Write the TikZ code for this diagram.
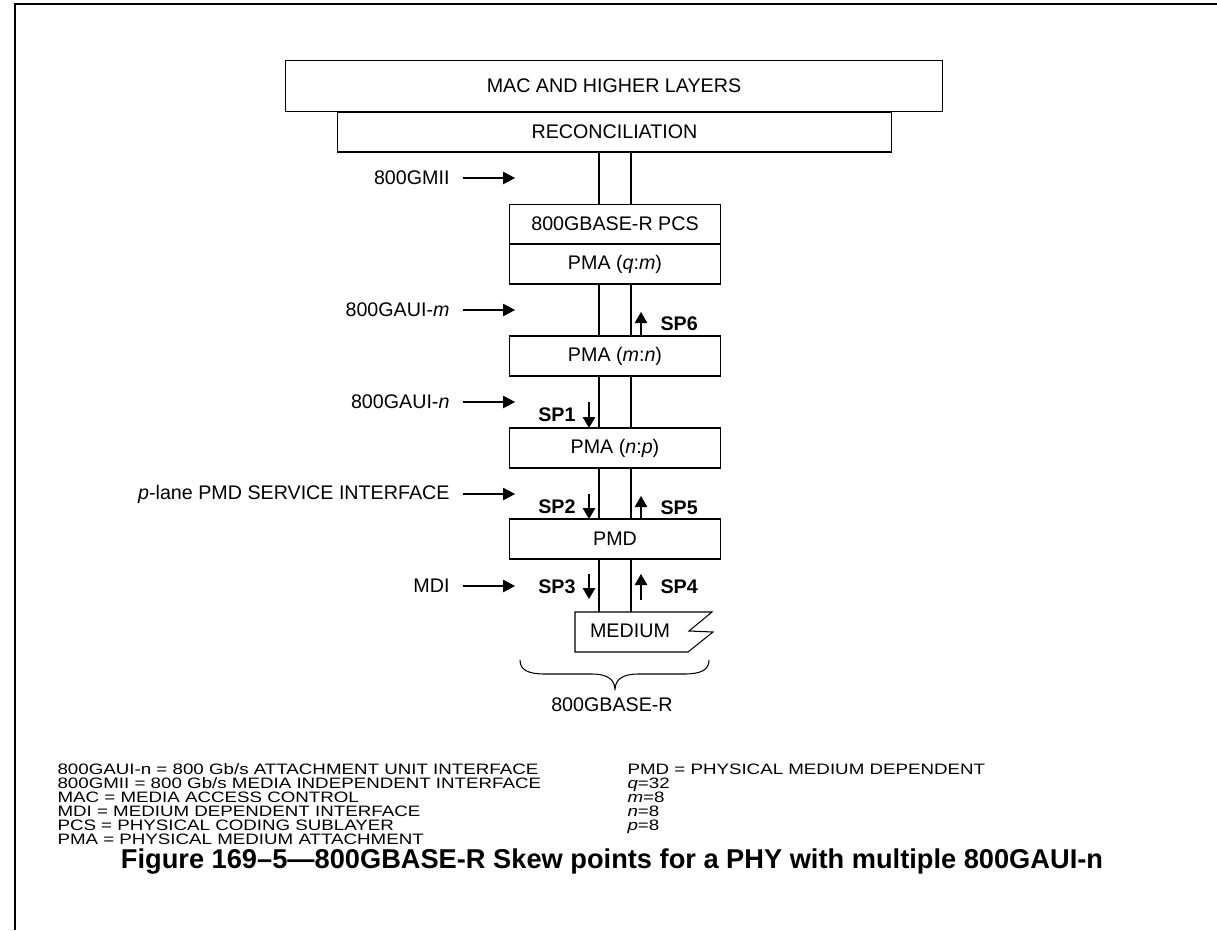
\documentclass[tikz,border=0pt]{standalone}
\usepackage{fontspec}
\setmainfont{Liberation Sans}
\newfontfamily\legendfont[FakeStretch=1.24]{Liberation Sans}
\usetikzlibrary{arrows.meta}

\begin{document}
\begin{tikzpicture}[x=0.02cm, y=-0.02cm, line width=0.6pt,
  layer/.style={draw, inner sep=0pt, minimum height=0.8cm, font=\fontsize{11.2}{13}\selectfont},
  sublayer/.style={layer, minimum width=4.22cm},
  lbl/.style={inner sep=0pt, font=\fontsize{11.2}{13}\selectfont},
  splbl/.style={inner sep=0pt, font=\fontsize{11.2}{13}\selectfont\bfseries},
  ifarrow/.style={-{Triangle[length=0.24cm, width=0.25cm]}},
  sparrow/.style={-{Triangle[length=0.22cm, width=0.25cm]}},
  legend/.style={inner sep=0pt, anchor=base west, font=\legendfont\fontsize{8.6}{11}\selectfont}]

\def\la{599}
\def\lb{631}
\def\ix{450}

\useasboundingbox (0,0) rectangle (1217,930);
\draw[line width=0.9pt] (15,930) -- (15,4) -- (1217,4);

\node[layer, minimum width=13.16cm, minimum height=1.03cm] (mac) at (614,86) {MAC AND HIGHER LAYERS};
\node[layer, minimum width=11.1cm] (rs) at (614.5,132) {RECONCILIATION};

\node[sublayer, minimum height=0.79cm] (pcs) at (615,224) {800GBASE-R PCS};
\node[sublayer] (pmaqm) at (615,264) {PMA (\textit{q}:\textit{m})};
\node[sublayer] (pmamn) at (615,356) {PMA (\textit{m}:\textit{n})};
\node[sublayer] (pmanp) at (615,448) {PMA (\textit{n}:\textit{p})};
\node[sublayer] (pmd) at (615,539) {PMD};

\node[lbl] (medium) at (630,631) {MEDIUM};
\coordinate (mtop) at (615,612);
\draw (575,612) -- (712,612) -- (689,631) -- (713,632) -- (688,652) -- (575,652) -- cycle;

\coordinate (lanea) at (\la,0);
\coordinate (laneb) at (\lb,0);
\foreach \u/\l in {rs.south/pcs.north, pmaqm.south/pmamn.north, pmamn.south/pmanp.north, pmanp.south/pmd.north, pmd.south/mtop} {
  \draw (\u -| lanea) -- (\l -| lanea);
  \draw (\u -| laneb) -- (\l -| laneb);
}

\foreach \n/\y/\t in {gmii/178/800GMII, auim/310/{800GAUI-\textit{m}}, auin/402/{800GAUI-\textit{n}}, psi/494/{\textit{p}-lane PMD SERVICE INTERFACE}, mdi/586/MDI} {
  \node[lbl, anchor=east] (\n) at (\ix,\y) {\t};
  \coordinate (\n-tip) at (515,\y);
  \draw[ifarrow] ([xshift=0.26cm]\n.east) -- (\n-tip);
}

\foreach \n/\a/\b in {1/402/428, 2/494/519, 3/574/599} {
  \coordinate (sp\n-s) at (589,\a);
  \coordinate (sp\n-e) at (589,\b);
  \draw[sparrow] (sp\n-s) -- (sp\n-e);
  \node[splbl, anchor=east] (sp\n) at (576,{(\a+\b)/2}) {SP\n};
}
\foreach \n/\a/\b in {6/335/312, 5/519/496, 4/600/574} {
  \coordinate (sp\n-s) at (641,\a);
  \coordinate (sp\n-e) at (641,\b);
  \draw[sparrow] (sp\n-s) -- (sp\n-e);
  \node[splbl, anchor=west] (sp\n) at (660,{(\a+\b)/2}) {SP\n};
}

\draw (520,660) .. controls (520,670) and (528,674) .. (545,674) -- (592,674) .. controls (608,674) and (615,680) .. (615,690) .. controls (615,680) and (622,674) .. (638,674) -- (684,674) .. controls (701,674) and (709,670) .. (709,660);
\node[lbl] (phy) at (612,705) {800GBASE-R};

\node[legend] (l1) at (57,774) {800GAUI-n = 800 Gb/s ATTACHMENT UNIT INTERFACE};
\node[legend] (l2) at (57,788) {800GMII = 800 Gb/s MEDIA INDEPENDENT INTERFACE};
\node[legend] (l3) at (57,802) {MAC = MEDIA ACCESS CONTROL};
\node[legend] (l4) at (57,816) {MDI = MEDIUM DEPENDENT INTERFACE};
\node[legend] (l5) at (57,830) {PCS = PHYSICAL CODING SUBLAYER};
\node[legend] (l6) at (57,844) {PMA = PHYSICAL MEDIUM ATTACHMENT};
\node[legend] (r1) at (627,774) {PMD = PHYSICAL MEDIUM DEPENDENT};
\node[legend] (r2) at (627,788) {\textit{q}=32};
\node[legend] (r3) at (627,802) {\textit{m}=8};
\node[legend] (r4) at (627,816) {\textit{n}=8};
\node[legend] (r5) at (627,830) {\textit{p}=8};

\node[font=\fontsize{15.5}{18}\selectfont\bfseries] (cap) at (612,862) {Figure 169–5—800GBASE-R Skew points for a PHY with multiple 800GAUI-n};

\end{tikzpicture}
\end{document}
